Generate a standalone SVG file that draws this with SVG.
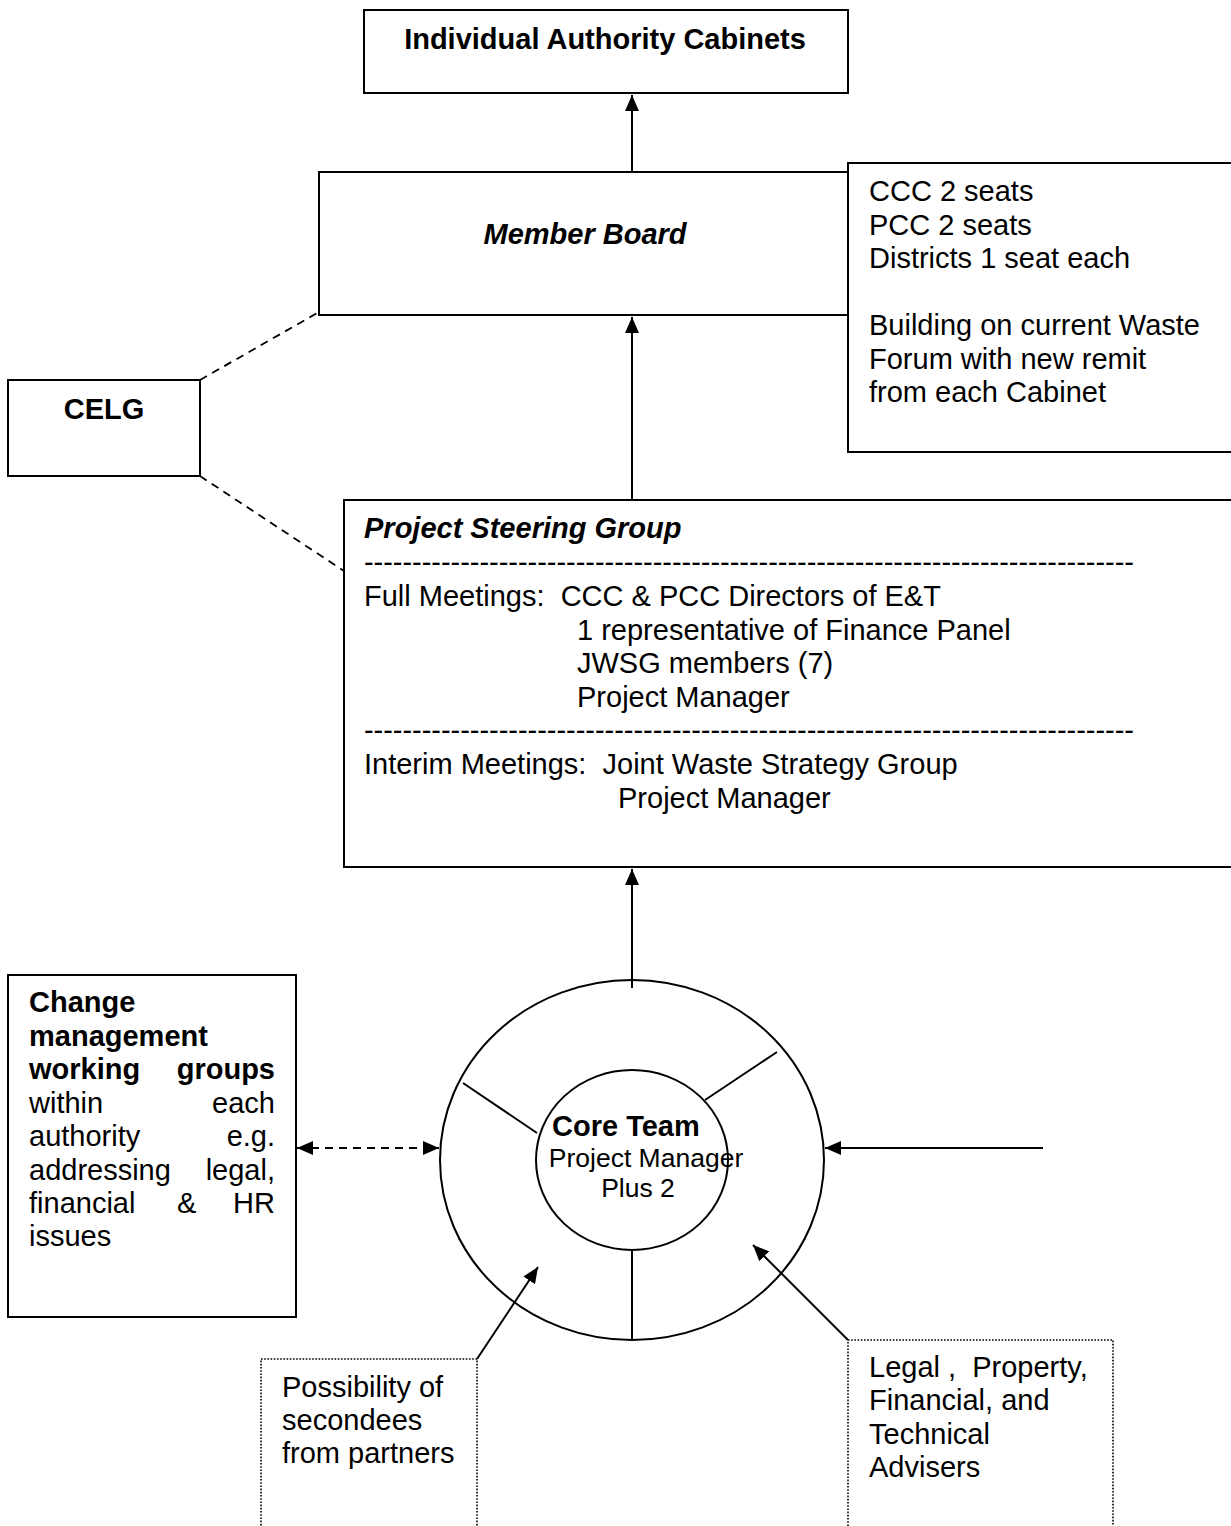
<svg xmlns="http://www.w3.org/2000/svg" width="1231" height="1526" viewBox="0 0 1231 1526">
<defs>
<marker id="ah" viewBox="0 0 16 14" markerUnits="userSpaceOnUse" markerWidth="16" markerHeight="14" refX="16" refY="7" orient="auto-start-reverse"><path d="M0,0 L16,7 L0,14 z" fill="#000"/></marker>
<style>
.box{fill:#fff;stroke:#000;stroke-width:2}
.dot{fill:none;stroke:#000;stroke-width:1.6;stroke-dasharray:1.6 1.6}
.t{font-family:"Liberation Sans",Arial,sans-serif;font-size:29px;fill:#000}
.s{font-size:26.5px}
.b{font-weight:bold}
.i{font-style:italic}
.c{text-anchor:middle}
.e{text-anchor:end}
.ln{fill:none;stroke:#000;stroke-width:2}
.dash{fill:none;stroke:#000;stroke-width:1.8;stroke-dasharray:8 6}
</style>
</defs>
<rect width="1231" height="1526" fill="#fff"/>

<g id="connectors">
<line class="ln" x1="632" y1="172" x2="632" y2="95" marker-end="url(#ah)"/>
<line class="ln" x1="632" y1="500" x2="632" y2="317" marker-end="url(#ah)"/>
<line class="ln" x1="632" y1="988" x2="632" y2="869" marker-end="url(#ah)"/>
<line class="dash" x1="200" y1="380" x2="319" y2="312"/>
<line class="dash" x1="200" y1="476" x2="344" y2="571"/>
<line class="dash" x1="297" y1="1148" x2="439" y2="1148" marker-start="url(#ah)" marker-end="url(#ah)"/>
<line class="ln" x1="1043" y1="1148" x2="825" y2="1148" marker-end="url(#ah)"/>
<line class="ln" x1="477" y1="1359" x2="538" y2="1267" marker-end="url(#ah)"/>
<line class="ln" x1="848" y1="1340" x2="753" y2="1245" marker-end="url(#ah)"/>
</g>

<g id="cabinets">
<rect class="box" x="364" y="10" width="484" height="83"/>
<text class="t b c" x="605" y="49">Individual Authority Cabinets</text>
</g>

<g id="member-board">
<rect class="box" x="319" y="172" width="529" height="143"/>
<text class="t b i c" x="585" y="244">Member Board</text>
</g>

<g id="member-note">
<rect class="box" x="848" y="163" width="400" height="289"/>
<text class="t" x="869" y="201">CCC 2 seats</text>
<text class="t" x="869" y="234.5">PCC 2 seats</text>
<text class="t" x="869" y="268">Districts 1 seat each</text>
<text class="t" x="869" y="335">Building on current Waste</text>
<text class="t" x="869" y="368.5">Forum with new remit</text>
<text class="t" x="869" y="402">from each Cabinet</text>
</g>

<g id="celg">
<rect class="box" x="8" y="380" width="192" height="96"/>
<text class="t b c" x="104" y="419">CELG</text>
</g>

<g id="steering-group">
<rect class="box" x="344" y="500" width="900" height="367"/>
<text class="t b i" x="364" y="538">Project Steering Group</text>
<text class="t" x="364" y="572" textLength="770" lengthAdjust="spacing">--------------------------------------------------------------------------------</text>
<text class="t" x="364" y="606" xml:space="preserve">Full Meetings:  CCC &amp; PCC Directors of E&amp;T</text>
<text class="t" x="577" y="640">1 representative of Finance Panel</text>
<text class="t" x="577" y="673">JWSG members (7)</text>
<text class="t" x="577" y="707">Project Manager</text>
<text class="t" x="364" y="740" textLength="770" lengthAdjust="spacing">--------------------------------------------------------------------------------</text>
<text class="t" x="364" y="774" xml:space="preserve">Interim Meetings:  Joint Waste Strategy Group</text>
<text class="t" x="618" y="808">Project Manager</text>
</g>

<g id="change-groups">
<rect class="box" x="8" y="975" width="288" height="342"/>
<text class="t b" x="29" y="1012">Change</text>
<text class="t b" x="29" y="1046">management</text>
<text class="t b" x="29" y="1079">working</text>
<text class="t b e" x="275" y="1079">groups</text>
<text class="t" x="29" y="1113">within</text>
<text class="t e" x="275" y="1113">each</text>
<text class="t" x="29" y="1146">authority</text>
<text class="t e" x="275" y="1146">e.g.</text>
<text class="t" x="29" y="1180">addressing</text>
<text class="t e" x="275" y="1180">legal,</text>
<text class="t" x="29" y="1213">financial</text>
<text class="t" x="177" y="1213">&amp;</text>
<text class="t e" x="275" y="1213">HR</text>
<text class="t" x="29" y="1246">issues</text>
</g>

<g id="core-team">
<ellipse class="ln" cx="632" cy="1160" rx="192" ry="180"/>
<ellipse class="ln" cx="632" cy="1160" rx="96" ry="90"/>
<line class="ln" x1="463" y1="1083" x2="537" y2="1133"/>
<line class="ln" x1="777" y1="1052" x2="705" y2="1100"/>
<line class="ln" x1="632" y1="1250" x2="632" y2="1340"/>
<text class="t b" x="552" y="1136">Core Team</text>
<text class="t s c" x="646" y="1167">Project Manager</text>
<text class="t s c" x="638" y="1197">Plus 2</text>
</g>

<g id="secondees">
<rect class="dot" x="261" y="1359" width="216" height="200"/>
<text class="t" x="282" y="1397">Possibility of</text>
<text class="t" x="282" y="1430">secondees</text>
<text class="t" x="282" y="1463">from partners</text>
</g>

<g id="advisers">
<rect class="dot" x="848" y="1340" width="265" height="220"/>
<text class="t" x="869" y="1377" xml:space="preserve">Legal ,  Property,</text>
<text class="t" x="869" y="1410">Financial, and</text>
<text class="t" x="869" y="1444">Technical</text>
<text class="t" x="869" y="1477">Advisers</text>
</g>
</svg>
